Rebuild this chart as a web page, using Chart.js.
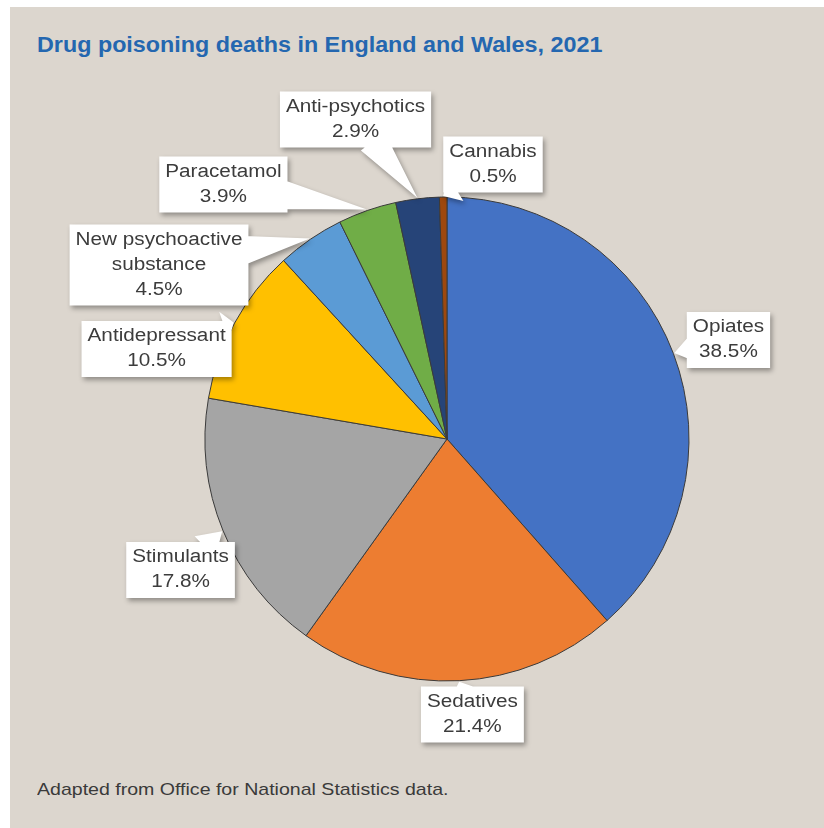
<!DOCTYPE html>
<html>
<head>
<meta charset="utf-8">
<script src="https://cdn.jsdelivr.net/npm/chart.js@4.4.0/dist/chart.umd.min.js"></script>
<style>
  html, body { margin:0; padding:0; background:#ffffff; width:824px; height:828px; overflow:hidden; }
  #frame { position:absolute; left:10px; top:7px; width:814px; height:821px; background:#dcd6ce; }
  #title { position:absolute; left:37px; top:34px; margin:0; font-family:"Liberation Sans", Arial, sans-serif;
           font-weight:bold; font-size:22px; line-height:22px; color:#2467b0; white-space:nowrap;
           transform:scaleX(1.06); transform-origin:left center; }
  #footer { position:absolute; left:37px; top:781px; margin:0; font-family:"Liberation Sans", Arial, sans-serif;
           font-size:17px; line-height:17px; color:#3a3a3a; white-space:nowrap;
           transform:scaleX(1.15); transform-origin:left center; }
  #chart { position:absolute; left:0; top:0; }
</style>
</head>
<body>
<div id="frame"></div>
<div id="title">Drug poisoning deaths in England and Wales, 2021</div>
<div id="footer">Adapted from Office for National Statistics data.</div>
<canvas id="chart" width="824" height="828"></canvas>
<script>
// ---- data ----
const categories = ['Opiates', 'Sedatives', 'Stimulants', 'Antidepressant',
  ['New psychoactive', 'substance'], 'Paracetamol', 'Anti-psychotics', 'Cannabis'];
const shares = [38.5, 21.4, 17.8, 10.5, 4.5, 3.9, 2.9, 0.5];
const sliceColors = ['#4472C4', '#ED7D31', '#A5A5A5', '#FFC000', '#5B9BD5', '#70AD47', '#264478', '#9E480E'];

// ---- label box placement (box centre relative to pie centre, in radii) ----
const labelOffsets = [
  [1.163, -0.409], [0.105, 1.138], [-1.101, 0.541], [-1.200, -0.372],
  [-1.190, -0.719], [-0.924, -1.052], [-0.378, -1.320], [0.190, -1.134]
];

const LABEL_FONT = '18px "Liberation Sans", Arial, sans-serif';
const TEXT_SX = 1.15, LINE_H = 25, PAD_X = 6, PAD_Y = 3;

const calloutPlugin = {
  id: 'callouts',
  afterDatasetsDraw(chart) {
    const ctx = chart.ctx;
    const meta = chart.getDatasetMeta(0);
    ctx.save();
    ctx.font = LABEL_FONT;
    meta.data.forEach((arc, i) => {
      const p = arc.getProps(['x', 'y', 'startAngle', 'endAngle', 'outerRadius'], true);
      const mid = (p.startAngle + p.endAngle) / 2;
      const tipX = p.x + Math.cos(mid) * (p.outerRadius + 1);
      const tipY = p.y + Math.sin(mid) * (p.outerRadius + 1);
      const name = chart.data.labels[i];
      const lines = (Array.isArray(name) ? name.slice() : [name]);
      lines.push(chart.data.datasets[0].data[i].toFixed(1) + '%');
      let tw = 0;
      lines.forEach(l => { tw = Math.max(tw, ctx.measureText(l).width * TEXT_SX); });
      const bw = tw + 2 * PAD_X, bh = lines.length * LINE_H + 2 * PAD_Y;
      const cx = p.x + labelOffsets[i][0] * p.outerRadius;
      const cy = p.y + labelOffsets[i][1] * p.outerRadius;
      const bx = cx - bw / 2, by = cy - bh / 2;
      // pointer wedge
      let dx = tipX - cx, dy = tipY - cy;
      const len = Math.hypot(dx, dy); const ux = dx / len, uy = dy / len;
      const t = Math.min(Math.abs(ux) > 1e-6 ? (bw / 2) / Math.abs(ux) : 1e9,
                         Math.abs(uy) > 1e-6 ? (bh / 2) / Math.abs(uy) : 1e9);
      const baseX = cx + ux * (t - 8), baseY = cy + uy * (t - 8);
      const hw = 15;
      let pts = [[baseX - uy * hw, baseY + ux * hw], [tipX, tipY], [baseX + uy * hw, baseY - ux * hw]];
      const area = (pts[1][0] - pts[0][0]) * (pts[2][1] - pts[0][1]) - (pts[2][0] - pts[0][0]) * (pts[1][1] - pts[0][1]);
      if (area < 0) pts = [pts[2], pts[1], pts[0]];
      ctx.save();
      ctx.shadowColor = 'rgba(0,0,0,0.35)';
      ctx.shadowBlur = 5; ctx.shadowOffsetX = 2; ctx.shadowOffsetY = 3;
      ctx.fillStyle = '#ffffff';
      ctx.beginPath();
      ctx.rect(bx, by, bw, bh);
      ctx.moveTo(pts[0][0], pts[0][1]);
      ctx.lineTo(pts[1][0], pts[1][1]);
      ctx.lineTo(pts[2][0], pts[2][1]);
      ctx.closePath();
      ctx.fill('nonzero');
      ctx.restore();
      // text
      ctx.fillStyle = '#3c3c3c';
      ctx.textAlign = 'center';
      ctx.textBaseline = 'middle';
      lines.forEach((l, k) => {
        const ly = cy + (k - (lines.length - 1) / 2) * LINE_H;
        ctx.save();
        ctx.translate(cx, ly);
        ctx.scale(TEXT_SX, 1);
        ctx.fillText(l, 0, 0);
        ctx.restore();
      });
    });
    ctx.restore();
  }
};

new Chart(document.getElementById('chart'), {
  type: 'pie',
  data: {
    labels: categories,
    datasets: [{
      data: shares,
      backgroundColor: sliceColors,
      borderColor: '#3a3a3a',
      borderWidth: 1
    }]
  },
  options: {
    responsive: false,
    animation: false,
    radius: 242,
    layout: { padding: { left: 205, right: 135, top: 197, bottom: 147 } },
    plugins: { legend: { display: false }, tooltip: { enabled: false }, title: { display: false } }
  },
  plugins: [calloutPlugin]
});
</script>
</body>
</html>
